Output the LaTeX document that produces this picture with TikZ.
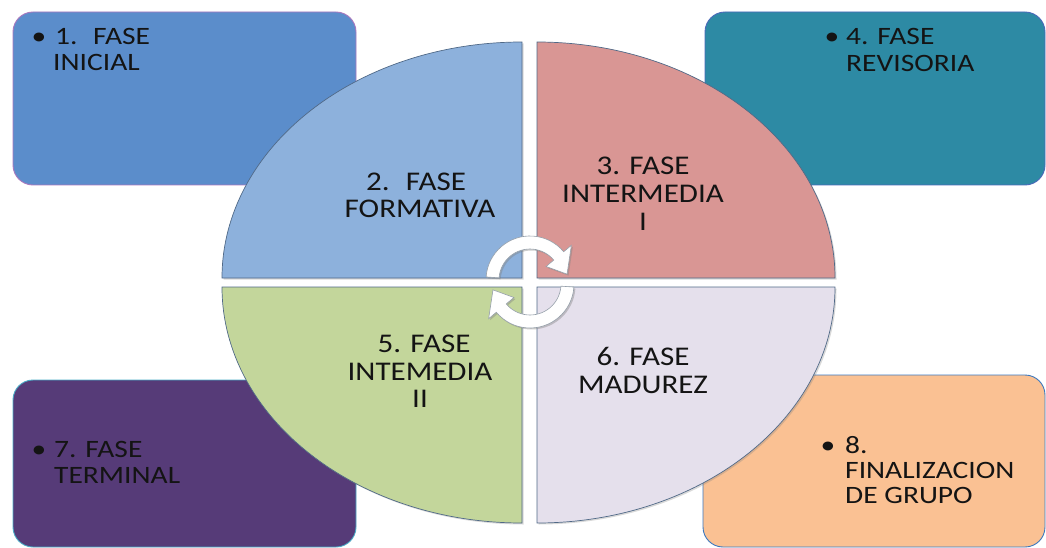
\documentclass[tikz,border=0pt]{standalone}
\usepackage{fontspec}
\setmainfont{Carlito}
\newfontfamily\boxfont{Carlito}[FakeStretch=1.18]
\newfontfamily\quadfont{Carlito}[FakeStretch=1.15]
\usetikzlibrary{shadows}
\definecolor{boxA}{RGB}{91,141,203}
\definecolor{boxAline}{RGB}{170,120,190}
\definecolor{boxB}{RGB}{45,138,164}
\definecolor{boxBline}{RGB}{75,105,185}
\definecolor{boxC}{RGB}{86,59,120}
\definecolor{boxCline}{RGB}{75,172,198}
\definecolor{boxD}{RGB}{250,193,147}
\definecolor{boxDline}{RGB}{60,120,190}
\definecolor{quadA}{RGB}{141,177,220}
\definecolor{quadB}{RGB}{217,150,148}
\definecolor{quadC}{RGB}{195,214,155}
\definecolor{quadD}{RGB}{229,224,236}
\definecolor{quadline}{RGB}{80,105,135}
\definecolor{arrowline}{RGB}{150,160,170}
\definecolor{txt}{RGB}{20,20,20}
\begin{document}
\begin{tikzpicture}[x=1pt,y=-1pt,
  cornerbox/.style={rounded corners=20pt, line width=0.9pt},
  quad/.style={draw=quadline, line width=0.7pt,
    drop shadow={opacity=0.3, shadow xshift=1.5pt, shadow yshift=-1.5pt}},
  cyclearrow/.style={fill=white, draw=arrowline, line width=0.6pt,
    drop shadow={opacity=0.4, shadow xshift=1.5pt, shadow yshift=-1.5pt}},
  boxtext/.style={font=\boxfont\fontsize{25}{26}\selectfont, text=txt,
    anchor=base west, inner sep=0pt},
  bullettext/.style={font=\boxfont\fontsize{25}{26}\selectfont, text=txt,
    anchor=base, inner sep=0pt},
  quadtext/.style={font=\quadfont\fontsize{27}{28}\selectfont, text=txt,
    anchor=base, inner sep=0pt}]
\useasboundingbox (0,0) rectangle (1046,548);
% corner boxes
\path[cornerbox, fill=boxA, draw=boxAline] (13,12) rectangle (356,185);
\path[cornerbox, fill=boxB, draw=boxBline] (705,12) rectangle (1045,185);
\path[cornerbox, fill=boxC, draw=boxCline] (13,380) rectangle (356,547);
\path[cornerbox, fill=boxD, draw=boxDline] (703,375) rectangle (1045,547);
% quadrants
\path[quad, fill=quadA] (522,278) -- (222,278)
  arc[start angle=180, end angle=270, x radius=300, y radius=236] -- cycle;
\path[quad, fill=quadB] (537,278) -- (537,42)
  arc[start angle=270, end angle=360, x radius=298, y radius=236] -- cycle;
\path[quad, fill=quadC] (522,287) -- (222,287)
  arc[start angle=180, end angle=90, x radius=300, y radius=236] -- cycle;
\path[quad, fill=quadD] (537,287) -- (537,523)
  arc[start angle=90, end angle=0, x radius=298, y radius=236] -- cycle;
% cycle arrows
\begin{scope}[shift={(530,280)}, yscale=-1]
  \path[cyclearrow] (176:44) arc[start angle=176, end angle=40, radius=44]
    -- (40:54) -- (9:37.5) -- (40:21) -- (40:31)
    arc[start angle=40, end angle=176, radius=31] -- cycle;
\end{scope}
\begin{scope}[shift={(530,284)}, yscale=-1]
  \path[cyclearrow] (356:44) arc[start angle=356, end angle=220, radius=44]
    -- (220:54) -- (189:37.5) -- (220:21) -- (220:31)
    arc[start angle=220, end angle=356, radius=31] -- cycle;
\end{scope}
% box texts
\node[bullettext] (b1) at (39,45) {•};
\node[boxtext] (t1a) at (55,45) {1.~ FASE};
\node[boxtext] (t1b) at (53,71) {INICIAL};
\node[bullettext] (b4) at (832,45) {•};
\node[boxtext] (t4a) at (846,45) {4. FASE};
\node[boxtext] (t4b) at (846,72) {REVISORIA};
\node[bullettext] (b7) at (39,457) {•};
\node[boxtext] (t7a) at (54,457) {7. FASE};
\node[boxtext] (t7b) at (54,483) {TERMINAL};
\node[bullettext] (b8) at (828,453) {•};
\node[boxtext] (t8a) at (845,453) {8.};
\node[boxtext] (t8b) at (845,478) {FINALIZACION};
\node[boxtext] (t8c) at (845,503) {DE GRUPO};
% quadrant texts
\node[quadtext] (q2a) at (416,190) {2.~ FASE};
\node[quadtext] (q2b) at (420,218) {FORMATIVA};
\node[quadtext] (q3a) at (643,175) {3. FASE};
\node[quadtext] (q3b) at (643,203) {INTERMEDIA};
\node[quadtext] (q3c) at (643,230) {I};
\node[quadtext] (q5a) at (424,352) {5. FASE};
\node[quadtext] (q5b) at (420,380) {INTEMEDIA};
\node[quadtext] (q5c) at (420,407) {II};
\node[quadtext] (q6a) at (643,365) {6. FASE};
\node[quadtext] (q6b) at (643,393) {MADUREZ};
\end{tikzpicture}
\end{document}
